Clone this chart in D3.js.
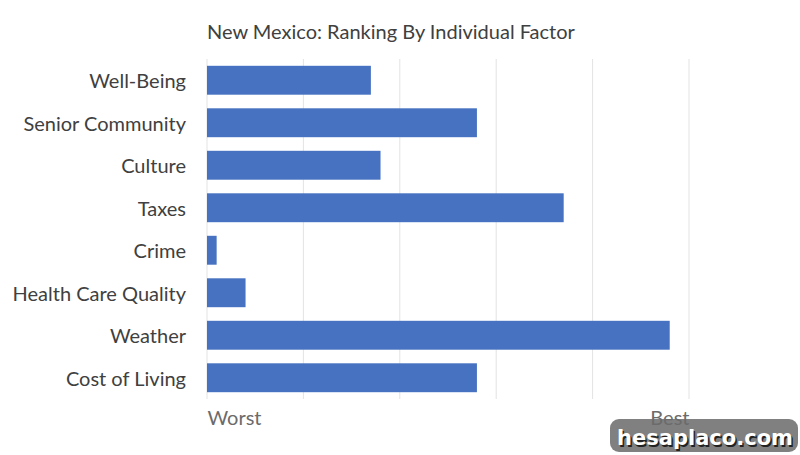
<!DOCTYPE html>
<html>
<head>
<meta charset="utf-8">
<script src="https://cdn.jsdelivr.net/npm/d3@7"></script>
<style>
  body { margin: 0; background: #fff; }
  text { font-family: Lato, "Open Sans", sans-serif; }
</style>
</head>
<body>
<div id="chart"></div>
<script>
// data
const categories = ['Well-Being', 'Senior Community', 'Culture', 'Taxes', 'Crime', 'Health Care Quality', 'Weather', 'Cost of Living']
const ranks = [17, 28, 18, 37, 1, 4, 48, 28]
const gridValues = [0, 10, 20, 30, 40, 50]
const tickLabels = ['Worst', 'Best']
const tickValues = [0, 50]

// canvas
const svgWidth = 800
const svgHeight = 455
const margin = { top: 59, right: 111, bottom: 56, left: 207 }
const width = svgWidth - margin.left - margin.right
const height = svgHeight - margin.top - margin.bottom

const svg = d3.select('#chart').append('svg').attr('width', svgWidth).attr('height', svgHeight)

// watermark (drawn first so the "Best" label sits on top of it)
const wm = svg.append('g').attr('transform', 'translate(610, 419)')
wm.append('rect').attr('width', 188).attr('height', 33).attr('rx', 9).attr('fill', '#555').attr('fill-opacity', 0.75)
wm.append('text').attr('x', 95).attr('y', 26).attr('text-anchor', 'middle').text('hesaplaco.com')
  .attr('fill', '#222').style('font-family', '"DejaVu Sans", sans-serif').style('font-weight', 'bold').style('font-size', '21px')
  .attr('dx', 1.5).attr('dy', 1.5)
wm.append('text').attr('x', 95).attr('y', 26).attr('text-anchor', 'middle').text('hesaplaco.com')
  .attr('fill', '#fff').style('font-family', '"DejaVu Sans", sans-serif').style('font-weight', 'bold').style('font-size', '21px')

const chartGroup = svg.append('g').attr('transform', `translate(${margin.left}, ${margin.top})`)

// scales
const x = d3.scaleLinear().domain([0, 50]).range([0, width])
const y = d3.scaleBand().domain(categories).range([0, height]).paddingInner(0.32).paddingOuter(0.16)

// gridlines
chartGroup.selectAll('.grid').data(gridValues).enter().append('line')
  .attr('x1', d => x(d)).attr('x2', d => x(d))
  .attr('y1', 0).attr('y2', height)
  .attr('stroke', '#e3e3e3').attr('stroke-width', 1)

// bars
const data = categories.map((c, i) => ({ name: c, value: ranks[i] }))
chartGroup.selectAll('rect').data(data).enter().append('rect')
  .attr('x', x(0)).attr('y', d => y(d.name))
  .attr('width', d => x(d.value) - x(0)).attr('height', y.bandwidth())
  .attr('fill', '#4672C1')

// y axis
const leftAxis = d3.axisLeft(y).tickSize(0).tickPadding(21)
const yAxis = chartGroup.append('g').call(leftAxis)
yAxis.select('.domain').remove()
yAxis.selectAll('text').attr('fill', '#404040').style('font-size', '20px').attr('dy', '0.4em')

// x axis
const bottomAxis = d3.axisBottom(x).tickValues(tickValues).tickSize(0).tickPadding(12)
  .tickFormat((d, i) => tickLabels[i])
const xAxis = chartGroup.append('g').attr('transform', `translate(0, ${height})`).call(bottomAxis)
xAxis.select('.domain').remove()
xAxis.selectAll('text').attr('fill', '#6b6b6b').style('font-size', '20px')
  .attr('text-anchor', (d, i) => i === 0 ? 'start' : 'end')

// title
svg.append('text').attr('x', 207).attr('y', 39).text('New Mexico: Ranking By Individual Factor')
  .attr('fill', '#404040').style('font-size', '20px')
</script>
</body>
</html>
